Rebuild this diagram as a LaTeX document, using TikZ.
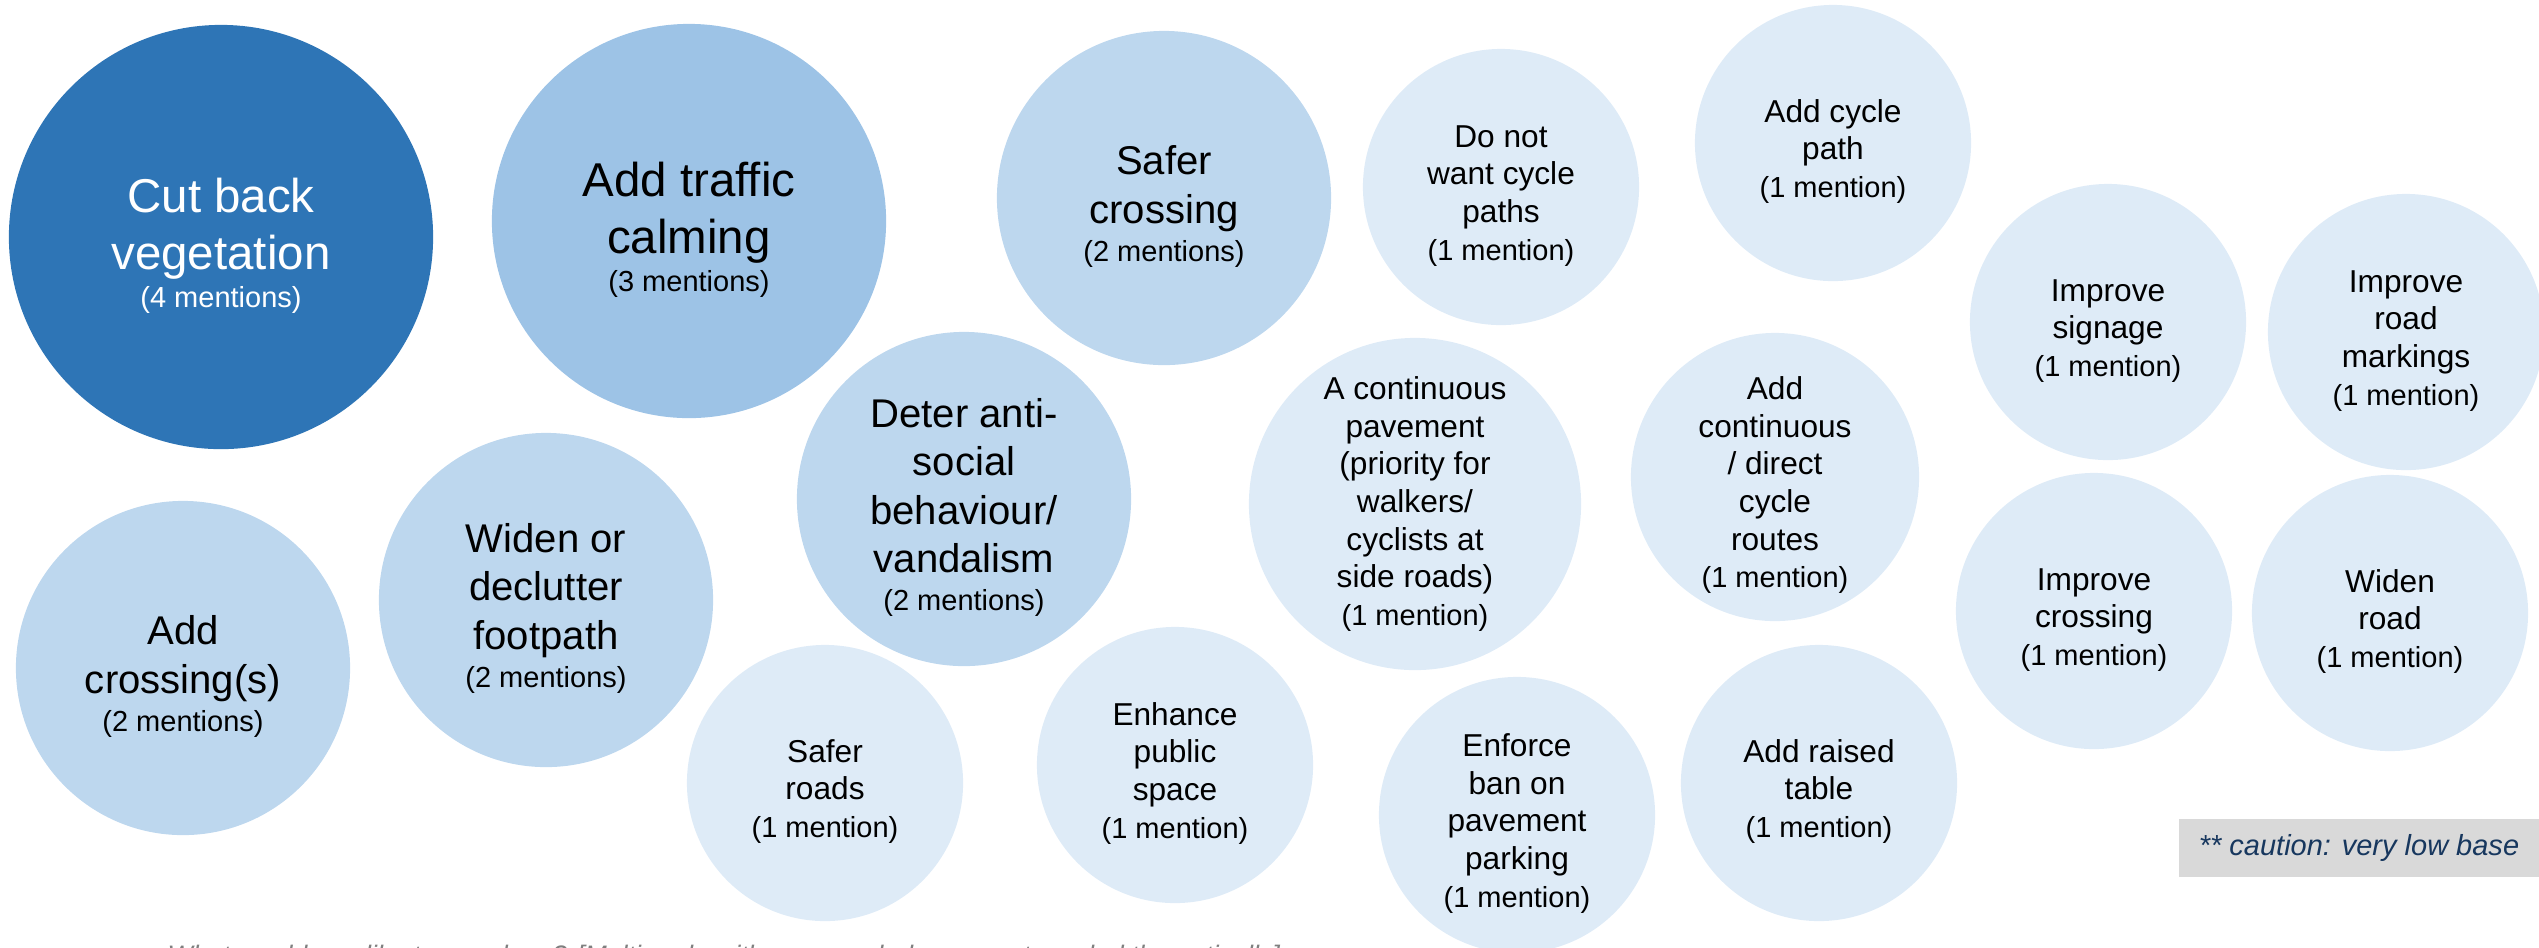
\documentclass[tikz,border=0pt]{standalone}
\usepackage{fontspec}
\setmainfont{Liberation Sans}
\usepackage{tikz}
\usetikzlibrary{positioning}
\definecolor{blfour}{RGB}{46,117,182}
\definecolor{blthree}{RGB}{157,195,230}
\definecolor{bltwo}{RGB}{189,215,238}
\definecolor{blone}{RGB}{222,235,247}
\definecolor{cautxt}{RGB}{23,55,94}
\definecolor{qgrey}{RGB}{127,127,127}
\definecolor{boxgrey}{RGB}{217,217,217}
\tikzset{bub/.style={circle,inner sep=0pt,align=center,text=black},
	 bfour/.style={bub,fill=blfour,text=white,minimum size=4.24cm,font=\fontsize{13.5}{16.2}\selectfont},
	 bthree/.style={bub,fill=blthree,minimum size=3.94cm,font=\fontsize{13.5}{16.2}\selectfont},
	 btwo/.style={bub,fill=bltwo,minimum size=3.34cm,font=\fontsize{11.4}{13.8}\selectfont},
	 bone/.style={bub,fill=blone,minimum size=2.76cm,font=\fontsize{9}{10.7}\selectfont}
	 }
\newcommand{\lift}{\rule{0pt}{\dimexpr 0.75em+4.5pt\relax}}
\newcommand{\mention}[1]{{\fontsize{8.25}{9.9}\selectfont(#1)}}

\begin{document}
\begin{tikzpicture}[x=0.01cm,y=-0.01cm] % bubbles, 1 unit = 1 px
	\useasboundingbox (0,0) rectangle (2539,947);
	\node[bfour] (cut) at (221,237) {\lift Cut back\\vegetation\\[-5.4pt]\mention{4 mentions}};
	\node[bthree] (calm) at (689,221) {\lift Add traffic\\calming\\[-5.4pt]\mention{3 mentions}};
	\node[btwo] (sfcross) at (1164,198) {\lift Safer\\crossing\\[-3pt]\mention{2 mentions}};
	\node[btwo] (deter) at (964,499) {\lift Deter anti-\\social\\behaviour/\\vandalism\\[-3pt]\mention{2 mentions}};
	\node[btwo] (addcross) at (183,668) {\lift Add\\crossing(s)\\[-3pt]\mention{2 mentions}};
	\node[btwo] (widpath) at (546,600) {\lift Widen or\\declutter\\footpath\\[-3pt]\mention{2 mentions}};
	\node[bone] (nocycle) at (1501,187) {\lift Do not\\want cycle\\paths\\\mention{1 mention}};
	\node[bone] (cycpath) at (1833,143) {\lift Add cycle\\path\\\mention{1 mention}};
	\node[bone] (signage) at (2108,322) {\lift Improve\\signage\\\mention{1 mention}};
	\node[bone] (marking) at (2406,332) {\lift Improve\\road\\markings\\\mention{1 mention}};
	\node[bone,minimum size=3.32cm] (contpave) at (1415,504) {A continuous\\pavement\\(priority for\\walkers/\\cyclists at\\side roads)\\\mention{1 mention}};
	\node[bone,minimum size=2.88cm] (contcyc) at (1775,477) {\lift Add\\continuous\\/ direct\\cycle\\routes\\\mention{1 mention}};
	\node[bone] (impcross) at (2094,611) {\lift Improve\\crossing\\\mention{1 mention}};
	\node[bone] (widroad) at (2390,613) {\lift Widen\\road\\\mention{1 mention}};
	\node[bone] (sfroads) at (825,783) {\lift Safer\\roads\\\mention{1 mention}};
	\node[bone] (enhance) at (1175,765) {\lift Enhance\\public\\space\\\mention{1 mention}};
	\node[bone] (enforce) at (1517,815) {\lift Enforce\\ban on\\pavement\\parking\\\mention{1 mention}};
	\node[bone] (raised) at (1819,783) {\lift Add raised\\table\\\mention{1 mention}};
	\node[fill=boxgrey,minimum width=3.6cm,minimum height=0.58cm,inner sep=0pt,
	      text=cautxt,font=\fontsize{8.25}{9.9}\selectfont\itshape] (caution) at (2359,848) {** caution: very low base};
	\node[anchor=base west,inner sep=0pt,text=qgrey,font=\fontsize{7.6}{9.1}\selectfont\itshape]
	      (question) at (167,964) {What would you like to see done? [Multi-code with open-ended comments coded thematically]};
\end{tikzpicture}
\end{document}
